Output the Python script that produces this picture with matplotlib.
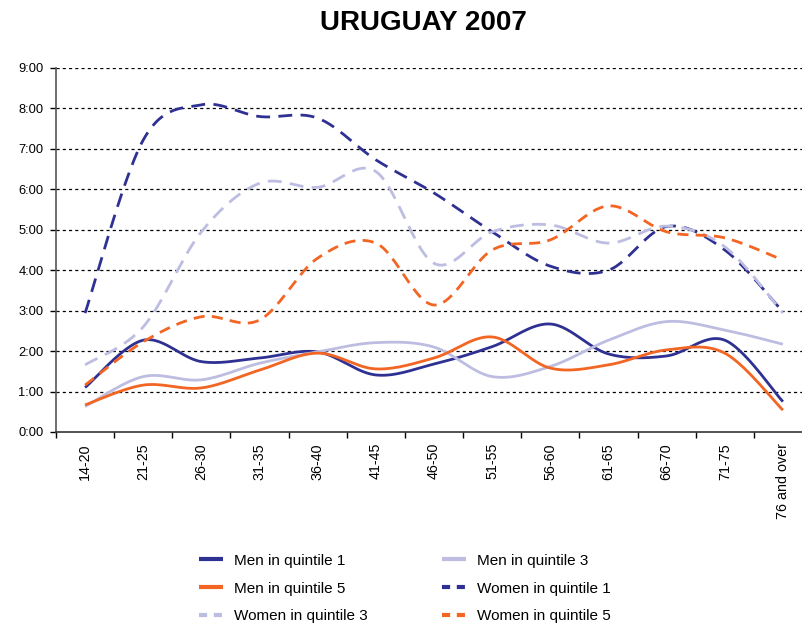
import numpy as np
import matplotlib
matplotlib.use("Agg")
import matplotlib.pyplot as plt
from matplotlib.lines import Line2D

plt.rcParams['font.family'] = ['Liberation Sans', 'DejaVu Sans']

categories = ["14-20", "21-25", "26-30", "31-35", "36-40", "41-45", "46-50",
              "51-55", "56-60", "61-65", "66-70", "71-75", "76 and over"]

men_q1 = [1.10, 2.27, 1.74, 1.83, 1.98, 1.41, 1.68, 2.11, 2.67, 1.93, 1.88, 2.27, 0.75]
men_q3 = [0.63, 1.37, 1.29, 1.70, 1.98, 2.21, 2.10, 1.37, 1.62, 2.27, 2.73, 2.52, 2.17]
men_q5 = [0.67, 1.16, 1.09, 1.53, 1.95, 1.56, 1.83, 2.35, 1.58, 1.66, 2.03, 1.95, 0.54]
women_q1 = [2.94, 7.22, 8.09, 7.80, 7.76, 6.73, 5.91, 4.95, 4.10, 4.00, 5.08, 4.50, 2.97]
women_q3 = [1.66, 2.60, 4.95, 6.15, 6.05, 6.44, 4.17, 4.95, 5.12, 4.67, 5.09, 4.58, 2.94]
women_q5 = [1.16, 2.23, 2.85, 2.77, 4.30, 4.67, 3.14, 4.50, 4.75, 5.59, 4.95, 4.80, 4.25]

y_ticks = [0, 1, 2, 3, 4, 5, 6, 7, 8, 9]
y_labels = ["0:00", "1:00", "2:00", "3:00", "4:00", "5:00", "6:00", "7:00", "8:00", "9:00"]

NAVY = "#2E3192"
LAV = "#BDBDE2"
ORANGE = "#F26522"


def smooth(x, y, n=30):
    x = np.asarray(x, float)
    y = np.asarray(y, float)
    P = np.column_stack([x, y])
    Pp = np.vstack([P[0], P, P[-1]])
    out = []
    t = np.linspace(0, 1, n)[:, None]
    for i in range(len(P) - 1):
        p0, p1, p2, p3 = Pp[i], Pp[i + 1], Pp[i + 2], Pp[i + 3]
        c1 = p1 + (p2 - p0) / 6.0
        c2 = p2 - (p3 - p1) / 6.0
        seg = ((1 - t) ** 3) * p1 + 3 * ((1 - t) ** 2) * t * c1 + 3 * (1 - t) * t ** 2 * c2 + t ** 3 * p2
        out.append(seg if i == 0 else seg[1:])
    S = np.vstack(out)
    return S[:, 0], S[:, 1]


fig = plt.figure(figsize=(8.02, 6.23), dpi=100)
ax = fig.add_axes([56 / 802, 1 - 432 / 623, (812 - 56) / 802, (432 - 68) / 623])

x = np.arange(len(categories))
series = [
    ("Men in quintile 1", men_q1, NAVY, None),
    ("Men in quintile 3", men_q3, LAV, None),
    ("Men in quintile 5", men_q5, ORANGE, None),
    ("Women in quintile 1", women_q1, NAVY, (5, 3)),
    ("Women in quintile 3", women_q3, LAV, (5, 3)),
    ("Women in quintile 5", women_q5, ORANGE, (4, 2.6)),
]
colors = {}
for name, vals, col, dashes in series:
    sx, sy = smooth(x, vals)
    kw = dict(color=col, lw=2.0, solid_capstyle='butt', dash_capstyle='butt')
    if dashes:
        ax.plot(sx, sy, linestyle=(0, dashes), **kw)
    else:
        ax.plot(sx, sy, linestyle='-', **kw)
    colors[name] = (col, dashes is not None)

ax.set_xlim(-0.5, len(categories) - 0.5)
ax.set_ylim(0, 9)
ax.set_yticks(y_ticks)
ax.set_yticklabels(y_labels, fontsize=9.3)
ax.set_xticks(x)
ax.set_xticklabels(categories, rotation=90, fontsize=10.3)
ax.tick_params(axis='x', which='major', length=0, pad=8)
ax.set_xticks(np.arange(-0.5, len(categories), 1.0), minor=True)
ax.tick_params(axis='x', which='minor', length=4, width=1, color='black')
ax.tick_params(axis='y', length=4, width=1, color='black', pad=5)
for yv in y_ticks[1:]:
    ax.axhline(yv, color='black', lw=0.9, linestyle=(0, (2.5, 2.5)), zorder=0)
for s in ['top', 'right']:
    ax.spines[s].set_visible(False)
ax.spines['left'].set_color('#555555')
ax.spines['bottom'].set_color('#333333')
ax.spines['left'].set_linewidth(1.2)
ax.spines['bottom'].set_linewidth(1.2)

fig.text(423 / 802, 1 - 23 / 623, "URUGUAY 2007", ha='center', va='center',
         fontsize=20, fontweight='bold')

order = ["Men in quintile 1", "Men in quintile 5", "Women in quintile 3",
         "Men in quintile 3", "Women in quintile 1", "Women in quintile 5"]
leg_handles = []
for nm in order:
    col, dashed = colors[nm]
    ls = (0, (1.95, 1.6)) if dashed else '-'
    leg_handles.append(Line2D([], [], color=col, lw=3, linestyle=ls,
                              dash_capstyle='butt', solid_capstyle='butt'))
fig.legend(leg_handles, order, ncol=2, loc='upper left',
           bbox_to_anchor=(185 / 802, 1 - 540 / 623), frameon=False,
           fontsize=11, handlelength=1.57, columnspacing=4.85,
           labelspacing=0.9, handletextpad=0.72)

fig.savefig("out.png", dpi=100)
